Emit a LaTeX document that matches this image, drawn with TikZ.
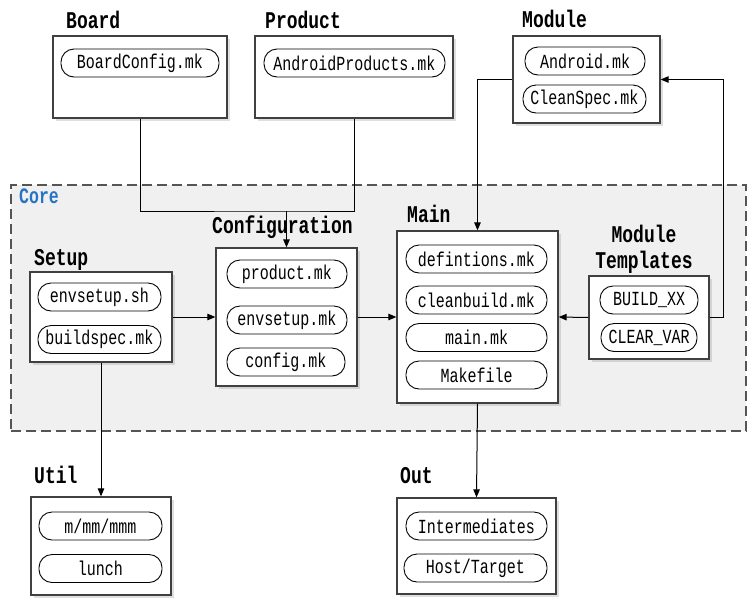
\documentclass[tikz,border=0pt]{standalone}
\usepackage{fontspec}
\setmainfont{Liberation Serif}
\newfontfamily\monoft[FakeStretch=0.75]{Liberation Mono}
\usetikzlibrary{arrows.meta,shadows}
\definecolor{boxline}{HTML}{404040}
\definecolor{corefill}{HTML}{F0F0F0}
\definecolor{coreline}{HTML}{555555}
\definecolor{coreblue}{HTML}{2874C4}
\tikzset{
  grp/.style={draw=boxline, line width=1.3pt, fill=white, inner sep=0pt,
    drop shadow={shadow xshift=2.5pt, shadow yshift=-2.5pt, opacity=0.25}},
  pill/.style={draw=black, line width=0.9pt, fill=white, rounded corners=13pt,
    inner sep=0pt, minimum height=28pt, font=\monoft\fontsize{20}{20}\selectfont},
  ttl/.style={anchor=base west, inner sep=0pt, font=\monoft\bfseries\fontsize{24}{24}\selectfont},
  conn/.style={draw=black, line width=1pt},
  arr/.style={conn, -{Triangle[length=8pt,width=6.5pt]}}
}
\begin{document}
\begin{tikzpicture}[x=1pt,y=-1pt]
\useasboundingbox (0,0) rectangle (749,606);
% Core region
\node[draw=coreline, dash pattern=on 10pt off 5pt, line width=1.1pt, fill=corefill,
  minimum width=735pt, minimum height=246pt, inner sep=0pt] (core) at (378.5,308) {};
\node[anchor=base west, inner sep=0pt, text=coreblue, font=\monoft\bfseries\fontsize{22}{22}\selectfont] (coret) at (19,203) {Core};

% Board
\node[grp, minimum width=174pt, minimum height=82pt] (board) at (140,77) {};
\node[ttl] (boardt) at (66,28) {Board};
\node[pill, minimum width=158pt] (bc) at (140,63) {BoardConfig.mk};

% Product
\node[grp, minimum width=198pt, minimum height=82pt] (product) at (354,77) {};
\node[ttl] (productt) at (265,28) {Product};
\node[pill, minimum width=181pt] (ap) at (354.5,63) {AndroidProducts.mk};

% Module
\node[grp, minimum width=147pt, minimum height=87pt] (module) at (586.5,79.5) {};
\node[ttl] (modulet) at (522,27) {Module};
\node[pill, minimum width=120pt] (am) at (585,61) {Android.mk};
\node[pill, minimum width=123pt] (cs) at (584.5,99) {CleanSpec.mk};

% Setup
\node[grp, minimum width=142pt, minimum height=90pt] (setup) at (101,317) {};
\node[ttl] (setupt) at (34,265) {Setup};
\node[pill, minimum width=123pt] (es) at (99.5,297) {envsetup.sh};
\node[pill, minimum width=123pt] (bs) at (99.5,339.5) {buildspec.mk};

% Configuration
\node[grp, minimum width=141pt, minimum height=138pt] (config) at (286.5,317) {};
\node[ttl] (configt) at (212,233) {Configuration};
\node[pill, minimum width=120pt] (pm) at (287,274) {product.mk};
\node[pill, minimum width=120pt] (em) at (287,320) {envsetup.mk};
\node[pill, minimum width=118pt] (cm) at (286,362) {config.mk};

% Main
\node[grp, minimum width=161pt, minimum height=172pt] (main) at (477.5,317) {};
\node[ttl] (maint) at (407,222) {Main};
\node[pill, minimum width=141pt] (df) at (476.5,259) {defintions.mk};
\node[pill, minimum width=141pt] (cb) at (476.5,300) {cleanbuild.mk};
\node[pill, minimum width=141pt] (mm) at (476.5,337.5) {main.mk};
\node[pill, minimum width=141pt] (mf) at (476.5,375) {Makefile};

% Module Templates
\node[grp, minimum width=120pt, minimum height=83pt] (mt) at (649,317.5) {};
\node[ttl, anchor=base] (mtt1) at (644,242) {Module};
\node[ttl, anchor=base] (mtt2) at (644,268) {Templates};
\node[pill, minimum width=98pt] (bx) at (649,300) {BUILD\_XX};
\node[pill, minimum width=96pt] (cv) at (649,337.5) {CLEAR\_VAR};

% Util
\node[grp, minimum width=140pt, minimum height=98pt] (util) at (101,546) {};
\node[ttl] (utilt) at (34,483) {Util};
\node[pill, minimum width=123pt] (mmm) at (100.5,526) {m/mm/mmm};
\node[pill, minimum width=123pt] (lu) at (100.5,568.5) {lunch};

% Out
\node[grp, minimum width=159pt, minimum height=96pt] (out) at (476.5,546) {};
\node[ttl] (outt) at (400,483) {Out};
\node[pill, minimum width=141pt] (im) at (476.5,526) {Intermediates};
\node[pill, minimum width=143pt] (ht) at (475.5,568) {Host/Target};

% Connectors
\coordinate (j1) at (286.5,211);
\draw[conn] (board.south) |- (j1) -| (product.south);
\draw[arr] (j1) -- (config.north);
\draw[arr] (setup.east) -- (config.west);
\draw[arr] (config.east) -- (main.west);
\draw[arr] (mt.west) -- (main.east);
\coordinate (rt) at (723,317.5);
\draw[arr] (mt.east) -- (rt) |- (module.east);
\draw[arr] (module.west) -| (main.north);
\draw[arr] (setup.south) -- (util.north);
\draw[arr] (main.south) -- (out.north);
\end{tikzpicture}
\end{document}
